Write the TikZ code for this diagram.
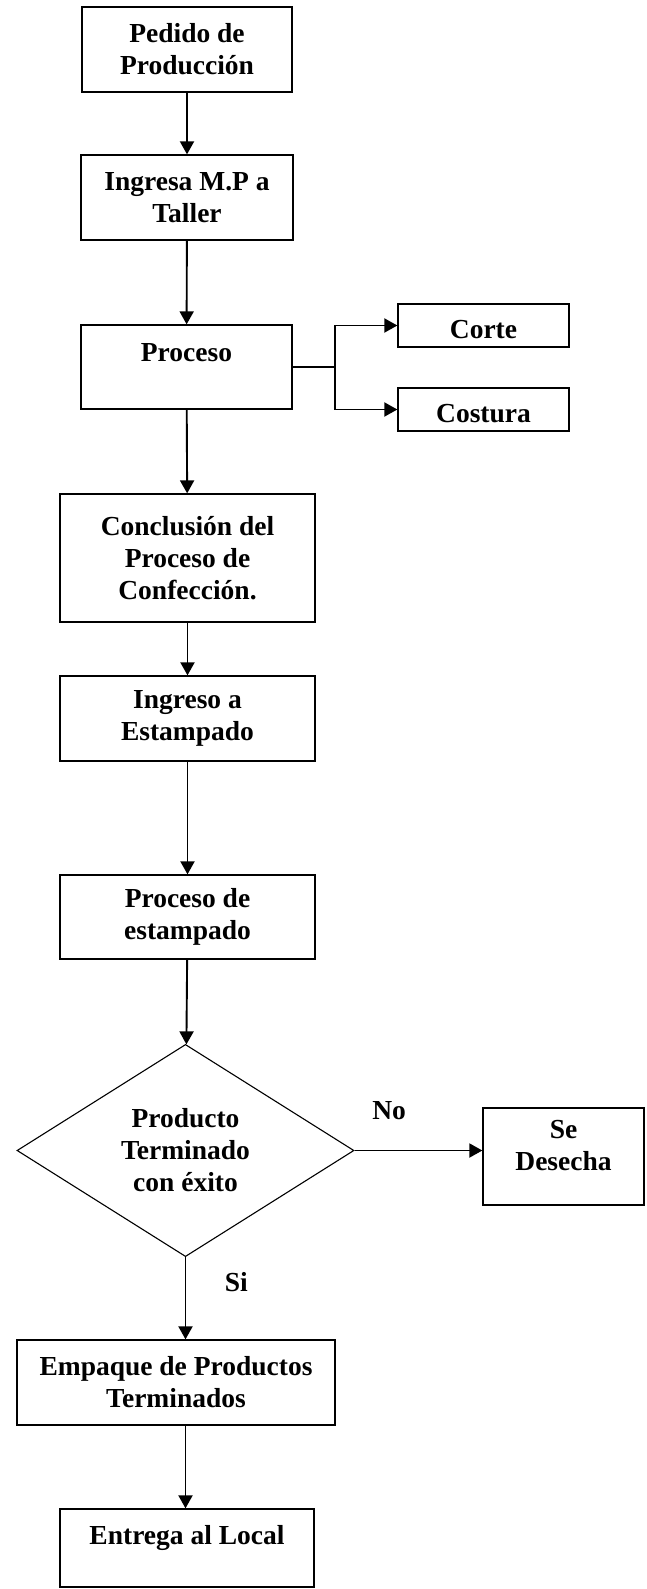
\documentclass[tikz,border=0pt]{standalone}
\usepackage{fontspec}
\setmainfont{Liberation Serif}
\usetikzlibrary{arrows.meta,shapes.geometric}

\begin{document}
\begin{tikzpicture}[x=1pt,y=-1pt,
  box/.style={draw,line width=1.3pt,inner sep=0pt,align=center,font=\bfseries\fontsize{27.5}{32}\selectfont},
  decision/.style={box,diamond,line width=1.1pt},
  arr/.style={line width=1.9pt,-{Triangle[length=13pt,width=14pt]}},
  lbl/.style={font=\bfseries\fontsize{27.5}{32}\selectfont}]
  \useasboundingbox (0,0) rectangle (646,1589);
  \node[box,minimum width=210pt,minimum height=85pt] (pedido) at (187,49.5) {Pedido de\\Producción};
  \node[box,minimum width=212pt,minimum height=85pt] (ingresa) at (187,197.5) {Ingresa M.P a\\Taller};
  \node[box,minimum width=211pt,minimum height=84pt,text depth=30pt] (proceso) at (186.5,367) {Proceso};
  \node[box,minimum width=171pt,minimum height=43pt,text height=27pt] (corte) at (483.5,325.5) {Corte};
  \node[box,minimum width=171pt,minimum height=43pt,text height=26pt] (costura) at (483.5,409.5) {Costura};
  \node[box,minimum width=255pt,minimum height=128pt] (conclusion) at (187.5,558) {Conclusión del\\Proceso de\\Confección.};
  \node[box,minimum width=255pt,minimum height=85pt] (ingreso) at (187.5,718.5) {Ingreso a\\Estampado};
  \node[box,minimum width=255pt,minimum height=84pt] (estampado) at (187.5,917) {Proceso de\\estampado};
  \node[decision,minimum width=337pt,minimum height=209pt] (exito) at (185.5,1150.5) {Producto\\Terminado\\con éxito};
  \node[box,minimum width=161pt,minimum height=97pt,text depth=22pt] (desecha) at (563.5,1156.5) {Se\\Desecha};
  \node[box,minimum width=318pt,minimum height=85pt] (empaque) at (176,1382.5) {Empaque de Productos\\Terminados};
  \node[box,minimum width=254pt,minimum height=78pt,text depth=26pt] (entrega) at (187,1548) {Entrega al Local};
  \coordinate (split) at (335,367);

  \draw[arr] (pedido) -- (ingresa);
  \draw[arr] (ingresa) -- (proceso);
  \draw[line width=1.9pt] (proceso.east) -- (split);
  \draw[arr] (split) |- (corte.west);
  \draw[arr] (split) |- (costura.west);
  \draw[arr] (proceso) -- (conclusion);
  \draw[arr] (conclusion) -- (ingreso);
  \draw[arr] (ingreso) -- (estampado);
  \draw[arr] (estampado) -- (exito);
  \draw[arr] (exito.east) -- (desecha.west |- exito.east) node[lbl,pos=0.27,above=26pt] {No};
  \draw[arr] (exito.south) -- (exito.south |- empaque.north) node[lbl,pos=0.3,right=35pt] {Si};
  \draw[arr] (empaque.south -| exito.south) -- (entrega.north -| exito.south);
\end{tikzpicture}
\end{document}
